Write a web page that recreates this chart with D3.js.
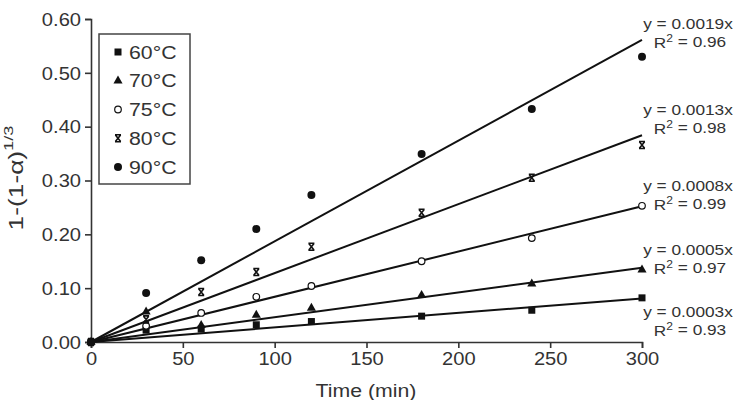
<!DOCTYPE html>
<html><head><meta charset="utf-8">
<script src="https://cdn.jsdelivr.net/npm/d3@7"></script>
<style>body{margin:0;background:#fff}text{font-family:"Liberation Sans",Arial,sans-serif;fill:#333}</style>
</head><body><svg id="c" width="741" height="400"></svg>
<script>
const times = [0, 30, 60, 90, 120, 180, 240, 300];
const seriesNames = ["60°C", "70°C", "75°C", "80°C", "90°C"];
const s60 = [0, 0.022, 0.024, 0.032, 0.038, 0.048, 0.059, 0.082];
const s70 = [0, 0.056, 0.031, 0.050, 0.063, 0.087, 0.108, 0.134];
const s75 = [0, 0.030, 0.054, 0.084, 0.104, 0.150, 0.193, 0.253];
const s80 = [0, 0.042, 0.093, 0.130, 0.177, 0.240, 0.305, 0.366];
const s90 = [0, 0.091, 0.152, 0.210, 0.273, 0.349, 0.433, 0.530];
const fitSlopes = [0.00027, 0.00046, 0.00084, 0.00128, 0.00187];
const eqLabels = ["y = 0.0003x", "y = 0.0005x", "y = 0.0008x", "y = 0.0013x", "y = 0.0019x"];
const r2Labels = ["0.93", "0.97", "0.99", "0.98", "0.96"];
const xTicks = [0, 50, 100, 150, 200, 250, 300];
const yTicks = [0, 0.1, 0.2, 0.3, 0.4, 0.5, 0.6];
const symbols = ["square", "triangle", "open", "cross", "dot"];
const allSeries = [s60, s70, s75, s80, s90];

const svg = d3.select("#c");
const x = d3.scaleLinear().domain([0, 300]).range([91, 642]);
const y = d3.scaleLinear().domain([0, 0.6]).range([342, 19]);
const col = "#333";
const SX = 1.15;

// axes
const xa = svg.append("g").attr("transform", "translate(0,342)")
  .call(d3.axisBottom(x).tickValues(xTicks).tickSize(6).tickSizeOuter(6).tickPadding(5));
const ya = svg.append("g").attr("transform", "translate(91,0)")
  .call(d3.axisLeft(y).tickValues(yTicks).tickFormat(d3.format(".2f")).tickSize(6).tickSizeOuter(6).tickPadding(3));
[xa, ya].forEach(a => {
  a.selectAll("path,line").attr("stroke", col).attr("stroke-width", 1.6);
  a.selectAll("text").attr("font-size", 17.5).attr("fill", col).attr("font-family", "Liberation Sans, Arial, sans-serif");
});
// stretch tick labels horizontally
xa.selectAll(".tick text").attr("transform", `scale(${SX},1)`).attr("y", 11);
ya.selectAll(".tick text").attr("dy", "0.36em").attr("x", -10 / SX).attr("transform", `scale(${SX},1)`);

// fit lines
allSeries.forEach((s, i) => {
  svg.append("line").attr("x1", x(0)).attr("y1", y(0))
    .attr("x2", x(300)).attr("y2", y(fitSlopes[i] * 300))
    .attr("stroke", "#111").attr("stroke-width", 2);
});

function marker(g, type, cx, cy) {
  if (type === "square") g.append("rect").attr("x", cx - 3.5).attr("y", cy - 3.5).attr("width", 7).attr("height", 7).attr("fill", "#111");
  else if (type === "triangle") g.append("path").attr("d", d3.symbol(d3.symbolTriangle, 36)()).attr("transform", `translate(${cx},${cy})`).attr("fill", "#111");
  else if (type === "open") g.append("circle").attr("cx", cx).attr("cy", cy).attr("r", 3.3).attr("fill", "#fff").attr("stroke", "#111").attr("stroke-width", 1.2);
  else if (type === "cross") g.append("path").attr("d", `M${cx-3},${cy-3.5}h6M${cx-3},${cy+3.5}h6M${cx-2.6},${cy-3.2}L${cx+2.6},${cy+3.2}M${cx+2.6},${cy-3.2}L${cx-2.6},${cy+3.2}`).attr("stroke", "#111").attr("stroke-width", 1.6).attr("fill", "none");
  else g.append("circle").attr("cx", cx).attr("cy", cy).attr("r", 4).attr("fill", "#111");
}

const pts = svg.append("g");
allSeries.forEach((s, i) => {
  s.forEach((v, j) => marker(pts, symbols[i], x(times[j]), y(v)));
});

function stext(px, py, size, anchor) {
  return svg.append("text").attr("transform", `translate(${px},${py}) scale(${SX},1)`)
    .attr("dy", "0.36em").attr("text-anchor", anchor).attr("font-size", size);
}

// legend
svg.append("rect").attr("x", 99).attr("y", 34).attr("width", 91).attr("height", 150)
  .attr("fill", "#fff").attr("stroke", "#444").attr("stroke-width", 1.5);
const legY = d3.scalePoint().domain(seriesNames).range([52, 167]);
seriesNames.forEach((n, i) => {
  marker(svg, symbols[i], 118, legY(n));
  stext(129, legY(n), 18.5, "start").text(n);
});

// equation labels
const eqY = [312, 250, 186, 110, 24];
eqLabels.forEach((t, i) => {
  stext(688, eqY[i], 15, "middle").text(t);
  const r = stext(690, eqY[i] + 19, 15, "middle");
  r.append("tspan").text("R");
  r.append("tspan").attr("font-size", 10.5).attr("dy", "-0.6em").text("2");
  r.append("tspan").attr("dy", "0.35em").text(" = " + r2Labels[i]);
});

// axis titles
stext(366, 390, 18.5, "middle").text("Time (min)");
const yt = svg.append("text").attr("transform", "translate(23,178) rotate(-90) scale(1.35,1)")
  .attr("text-anchor", "middle").attr("font-size", 19.5);
yt.append("tspan").text("1-(1-α)");
yt.append("tspan").attr("font-size", 13.5).attr("dy", "-0.75em").text("1/3");
</script></body></html>
